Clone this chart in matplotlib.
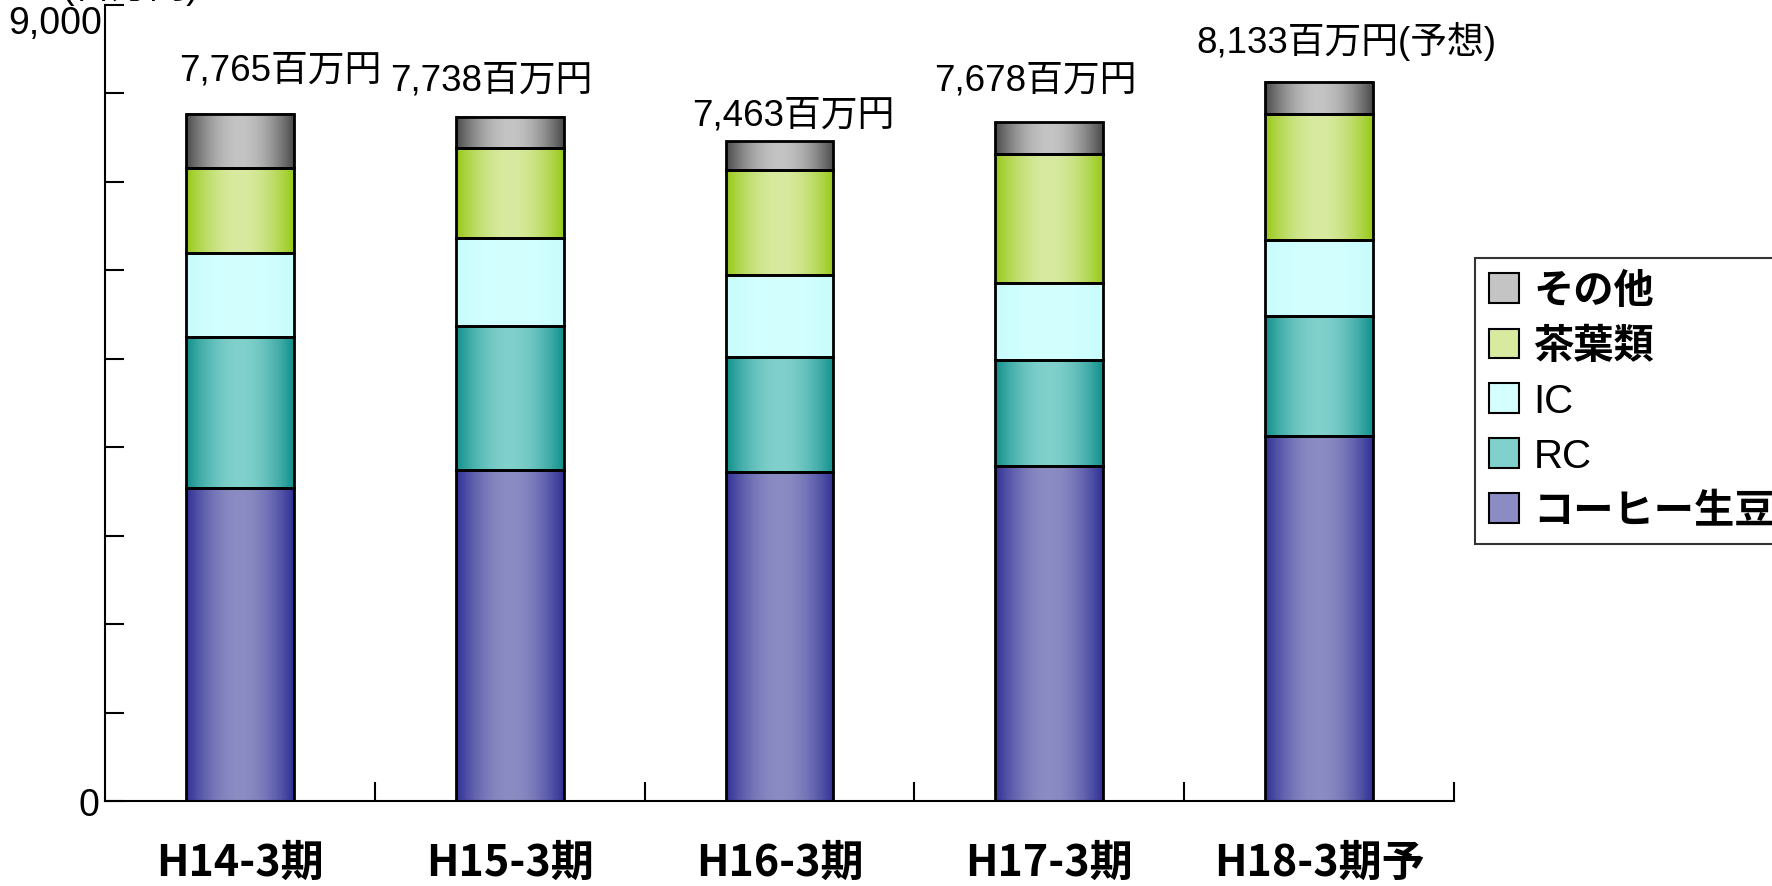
import numpy as np
import matplotlib
matplotlib.use("Agg")
import matplotlib.pyplot as plt
from matplotlib.colors import to_rgb
from matplotlib.patches import Patch

plt.rcParams['font.family'] = ['Liberation Sans', 'Noto Sans CJK JP', 'DejaVu Sans']

# data (百万円)
periods = ['H14-3期', 'H15-3期', 'H16-3期', 'H17-3期', 'H18-3期予']
coffee = [3540, 3740, 3716, 3793, 4125]
rc = [1711, 1635, 1303, 1188, 1354]
ic = [945, 996, 932, 881, 868]
tea = [958, 1009, 1188, 1456, 1418]
other = [611, 358, 324, 360, 368]
totals = ['7,765百万円', '7,738百万円', '7,463百万円', '7,678百万円', '8,133百万円(予想)']

series = [('コーヒー生豆', coffee, '#2e2e94', '#8c8cc4', 'bold'),
          ('RC', rc, '#0e8f8b', '#80d0cc', 'normal'),
          ('IC', ic, '#c8fcfc', '#d4ffff', 'normal'),
          ('茶葉類', tea, '#96c814', '#d8eaa0', 'bold'),
          ('その他', other, '#484848', '#c4c4c4', 'bold')]

# label layout offsets (x in category units, y in value units)
label_dx = [0.15, -0.07, 0.05, -0.05, 0.10]
label_dy = [500, 410, 290, 470, 460]


def gradient(edge, mid, n=200):
    t = np.linspace(0, 1, n)
    w = np.sin(np.pi * t) ** 0.9
    e = np.array(to_rgb(edge))
    m = np.array(to_rgb(mid))
    row = e[None, :] * (1 - w[:, None]) + m[None, :] * w[:, None]
    return row[None, :, :]


fig = plt.figure(figsize=(17.72, 8.87), dpi=100)
ax = fig.add_axes([105 / 1772, 1 - 802 / 887, (1454 - 105) / 1772, (802 - 6) / 887])

x = np.arange(len(periods))
bottom = np.zeros(len(periods))
for name, vals, edge, mid, wt in series:
    bars = ax.bar(x, vals, 0.4, bottom=bottom, facecolor='none',
                  edgecolor='black', linewidth=2, zorder=3)
    img = gradient(edge, mid)
    for r in bars:
        ax.imshow(img, extent=(r.get_x(), r.get_x() + r.get_width(),
                               r.get_y(), r.get_y() + r.get_height()),
                  aspect='auto', zorder=2, interpolation='bilinear')
    bottom += np.array(vals)

for i, lab in enumerate(totals):
    ax.text(x[i] + label_dx[i], bottom[i] + label_dy[i], lab, ha='center',
            va='center', fontsize=26.5)

ax.set_xlim(-0.5, len(periods) - 0.5)
ax.set_ylim(0, 9000)
ax.set_yticks(np.arange(0, 9001, 1000))
ax.set_yticklabels(['0'] + [''] * 9, fontsize=27)
ax.tick_params(axis='y', direction='in', length=14, width=1.5, pad=4)
ax.annotate('9,000', xy=(0, 9000), xycoords=ax.get_yaxis_transform(),
            xytext=(-2, 0), textcoords='offset points',
            ha='right', va='top', fontsize=27)
ax.set_xticks(np.arange(0.5, len(periods) - 0.4, 1))
ax.set_xticklabels([])
ax.tick_params(axis='x', direction='in', length=14, width=1.5)
for i, p in enumerate(periods):
    ax.text(x[i], -0.076, p, transform=ax.get_xaxis_transform(), ha='center',
            va='center', fontsize=31, fontweight='bold',
            family=['Noto Sans CJK JP'])
for s in ['top', 'right']:
    ax.spines[s].set_visible(False)
for s in ['left', 'bottom']:
    ax.spines[s].set_linewidth(1.5)

fig.text(62 / 1772, 1 - 6 / 887, '(百万円)', fontsize=27, va='bottom', ha='left')

handles = [Patch(facecolor=mid, edgecolor='black', linewidth=1.5)
           for _, _, edge, mid, _ in series][::-1]
names = [s[0] for s in series][::-1]
weights = [s[4] for s in series][::-1]
leg = fig.legend(handles, names, loc='upper left',
                 bbox_to_anchor=(1475 / 1772, 1 - 259 / 887),
                 fontsize=29, frameon=True, fancybox=False, edgecolor='black',
                 handlelength=0.75, handleheight=0.75, handletextpad=0.35,
                 labelspacing=0.42, borderpad=0.35, borderaxespad=0)
leg.get_frame().set_linewidth(1.5)
for t, w in zip(leg.get_texts(), weights):
    t.set_fontweight(w)

fig.savefig('out.png', dpi=100)
